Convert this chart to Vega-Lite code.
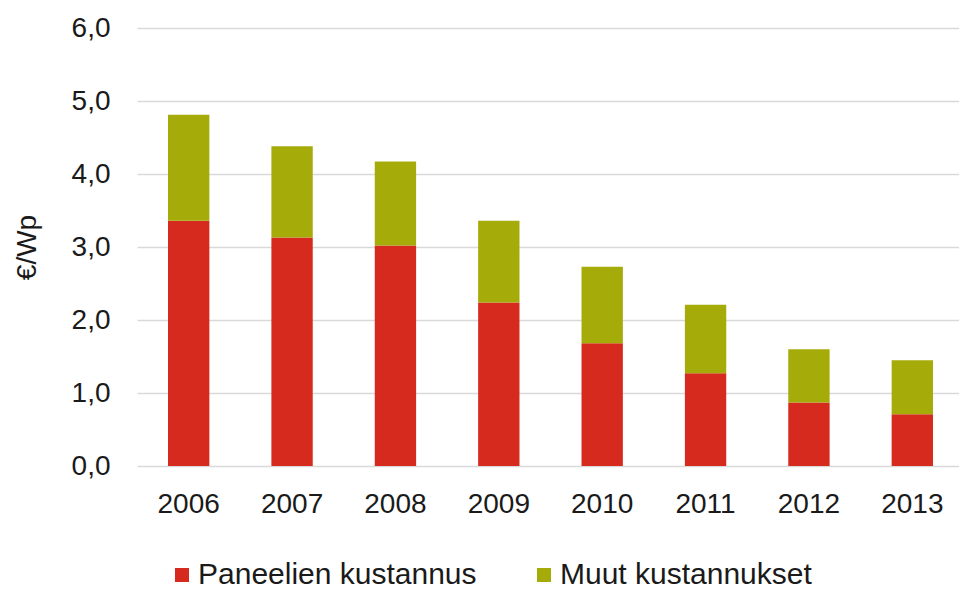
{
  "$schema": "https://vega.github.io/schema/vega-lite/v6.json",
  "width": 822,
  "height": 438,
  "autosize": "none",
  "padding": {"left": 137, "top": 28, "right": 0, "bottom": 124},
  "background": "white",
  "config": {
    "view": {"stroke": null},
    "font": "Liberation Sans",
    "axis": {"labelFont": "Liberation Sans", "titleFont": "Liberation Sans", "labelColor": "#1a1a1a", "titleColor": "#1a1a1a"},
    "legend": {"labelFont": "Liberation Sans", "labelColor": "#1a1a1a"}
  },
  "data": {
    "values": [
      {"year": "2006", "series": "Paneelien kustannus", "o": 1, "value": 3.36},
      {"year": "2006", "series": "Muut kustannukset", "o": 2, "value": 1.45},
      {"year": "2007", "series": "Paneelien kustannus", "o": 1, "value": 3.13},
      {"year": "2007", "series": "Muut kustannukset", "o": 2, "value": 1.25},
      {"year": "2008", "series": "Paneelien kustannus", "o": 1, "value": 3.02},
      {"year": "2008", "series": "Muut kustannukset", "o": 2, "value": 1.15},
      {"year": "2009", "series": "Paneelien kustannus", "o": 1, "value": 2.24},
      {"year": "2009", "series": "Muut kustannukset", "o": 2, "value": 1.12},
      {"year": "2010", "series": "Paneelien kustannus", "o": 1, "value": 1.68},
      {"year": "2010", "series": "Muut kustannukset", "o": 2, "value": 1.05},
      {"year": "2011", "series": "Paneelien kustannus", "o": 1, "value": 1.27},
      {"year": "2011", "series": "Muut kustannukset", "o": 2, "value": 0.94},
      {"year": "2012", "series": "Paneelien kustannus", "o": 1, "value": 0.87},
      {"year": "2012", "series": "Muut kustannukset", "o": 2, "value": 0.73},
      {"year": "2013", "series": "Paneelien kustannus", "o": 1, "value": 0.71},
      {"year": "2013", "series": "Muut kustannukset", "o": 2, "value": 0.74}
    ]
  },
  "mark": {"type": "bar"},
  "encoding": {
    "x": {
      "field": "year",
      "type": "nominal",
      "sort": null,
      "scale": {"range": [0, 827], "paddingInner": 0.6, "paddingOuter": 0.3},
      "axis": {
        "title": null,
        "labelAngle": 0,
        "labelFontSize": 28,
        "labelPadding": 24,
        "ticks": false,
        "domain": false
      }
    },
    "y": {
      "field": "value",
      "type": "quantitative",
      "stack": "zero",
      "scale": {"domain": [0, 6], "nice": false},
      "axis": {
        "title": "€/Wp",
        "titleFontSize": 28,
        "titleFontWeight": "normal",
        "titleAngle": 270,
        "titleAlign": "center",
        "titleBaseline": "middle",
        "titleX": -110,
        "titleY": 219,
        "values": [0, 1, 2, 3, 4, 5, 6],
        "labelExpr": "replace(format(datum.value, '.1f'), '.', ',')",
        "labelFontSize": 28,
        "labelPadding": 27,
        "ticks": false,
        "domain": false,
        "grid": true,
        "gridColor": "#d9d9d9",
        "gridWidth": 1.5
      }
    },
    "color": {
      "field": "series",
      "type": "nominal",
      "scale": {"domain": ["Paneelien kustannus", "Muut kustannukset"], "range": ["#d62a1e", "#a5ab08"]},
      "legend": {
        "title": null,
        "orient": "none",
        "direction": "horizontal",
        "legendX": 30,
        "legendY": 532,
        "symbolType": "square",
        "symbolSize": 196,
        "symbolStrokeWidth": 0,
        "labelFontSize": 30,
        "labelOffset": 1,
        "columnPadding": 52,
        "labelLimit": 400
      }
    },
    "order": {"field": "o", "type": "quantitative"}
  }
}
